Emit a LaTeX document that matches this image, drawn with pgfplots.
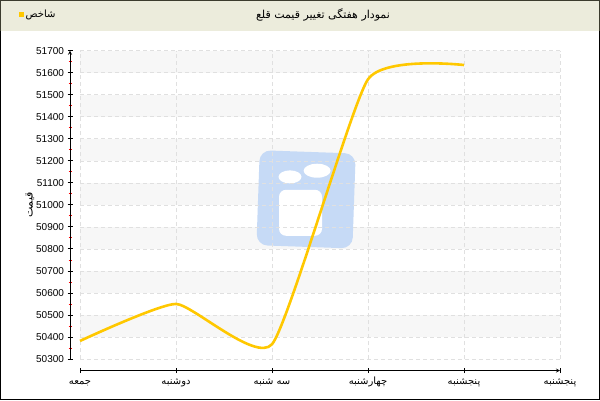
\documentclass[border=0pt]{standalone}
\usepackage{fontspec}
\setmainfont{Liberation Sans}
\newfontfamily\arabicfont[Script=Arabic]{DejaVu Sans}
\usepackage{pgfplots}
\usetikzlibrary{shapes.geometric}
\pgfplotsset{compat=1.18}
\TeXXeTstate=1
\definecolor{titlebg}{HTML}{ECECDC}
\definecolor{frameol}{HTML}{3C3C2E}
\definecolor{band}{HTML}{F7F7F7}
\definecolor{gridc}{HTML}{E0E0E0}
\definecolor{gold}{HTML}{FFC800}
\definecolor{wm}{HTML}{C6DAF6}
\pgfplotsset{
  common/.style={scale only axis, tick align=center,
    major tick length=5pt, minor tick length=3pt,
    major tick style={black, line width=0.8pt},
    minor tick style={red, line width=0.8pt},
    axis line style={-, line width=0.8pt, black},
    tick label style={font=\fontsize{10}{12}\selectfont},
    /pgf/number format/assume math mode=true}
}
\begin{document}
\begin{tikzpicture}[x=1pt,y=1pt]
\fill[white] (0,0) rectangle (600,400);
\fill[titlebg] (0,369) rectangle (600,400);
% background: bands and watermark
\begin{axis}[
  scale only axis, width=480pt, height=308.3pt,
  at={(80pt,41pt)}, anchor=south west,
  xmin=0, xmax=5, ymin=50300, ymax=51700,
  hide axis, clip=false, scaled y ticks=false,
]
\fill[band] (axis cs:0,51600) rectangle (axis cs:5,51700);
\fill[band] (axis cs:0,51400) rectangle (axis cs:5,51500);
\fill[band] (axis cs:0,51200) rectangle (axis cs:5,51300);
\fill[band] (axis cs:0,51000) rectangle (axis cs:5,51100);
\fill[band] (axis cs:0,50800) rectangle (axis cs:5,50900);
\fill[band] (axis cs:0,50600) rectangle (axis cs:5,50700);
\fill[band] (axis cs:0,50400) rectangle (axis cs:5,50500);
\node[fill=wm, rounded corners=11pt, rotate=-2, minimum width=96pt, minimum height=95pt, inner sep=0pt] at (axis cs:2.355,51025) {};
\node[fill=white, ellipse, minimum width=23pt, minimum height=13pt, inner sep=0pt] at (axis cs:2.1875,51127) {};
\node[fill=white, ellipse, minimum width=27pt, minimum height=14pt, inner sep=0pt] at (axis cs:2.47,51155) {};
\node[fill=white, rounded corners=7pt, minimum width=43pt, minimum height=46pt, inner sep=0pt] at (axis cs:2.297,50964) {};
\end{axis}
% grid and curve
\begin{axis}[
  scale only axis, width=480pt, height=308.3pt,
  at={(80pt,41pt)}, anchor=south west,
  xmin=0, xmax=5, ymin=50300, ymax=51700,
  axis line style={draw=none},
  xtick={0,...,5}, ytick={50300,50400,...,51700},
  xticklabels={}, yticklabels={},
  scaled y ticks=false, scaled x ticks=false,
  major tick length=0pt,
  grid=major,
  grid style={gridc, dash pattern=on 4pt off 3pt, line width=0.6pt},
  clip=false,
]
\addplot[gold, line width=2.6pt, smooth, tension=0.3] coordinates {(0,50382) (1,50550) (2,50367) (3,51570) (4,51635)};
\end{axis}
% y axis
\begin{axis}[
  common, width=490pt, height=308.3pt,
  at={(70pt,41pt)}, anchor=south west,
  xmin=0, xmax=5, ymin=50300, ymax=51700,
  axis y line=left, axis x line=none,
  ytick={50300,50400,...,51700},
  minor y tick num=1,
  scaled y ticks=false,
  yticklabel={\pgfmathprintnumber[fixed,precision=0,1000 sep={}]{\tick}},
]
\end{axis}
% x axis
\begin{axis}[
  common, width=480pt, height=319.8pt,
  at={(80pt,29.5pt)}, anchor=south west,
  xmin=0, xmax=5, ymin=0, ymax=1,
  axis x line=bottom, axis y line=none,
  xtick={0,...,5},
  xticklabel style={text height=7.5pt, text depth=2.5pt},
  xticklabels={{\arabicfont\beginR جمعه\endR},{\arabicfont\beginR دوشنبه\endR},{\arabicfont\beginR سه شنبه\endR},{\arabicfont\beginR چهارشنبه\endR},{\arabicfont\beginR پنجشنبه\endR},{\arabicfont\beginR پنجشنبه\endR}},
]
\end{axis}
\draw[black, line width=1.2pt] (0.6,0.6) rectangle (599.4,399.4);
\draw[frameol, line width=1.2pt] (0.6,369) -- (0.6,399.4) -- (599.4,399.4) -- (599.4,369);
\node[font=\fontsize{11}{13}\selectfont, text=black] at (323,385) {\arabicfont\beginR نمودار هفتگی تغییر قیمت قلع\endR};
\fill[gold] (18.5,382.5) rectangle (23.5,387.5);
\node[font=\fontsize{10}{12}\selectfont, anchor=west, inner sep=0pt] at (25.5,385) {\arabicfont\beginR شاخص\endR};
\node[font=\fontsize{11}{13}\selectfont, rotate=90] at (30,195) {\arabicfont\beginR قیمت\endR};
\end{tikzpicture}
\end{document}
